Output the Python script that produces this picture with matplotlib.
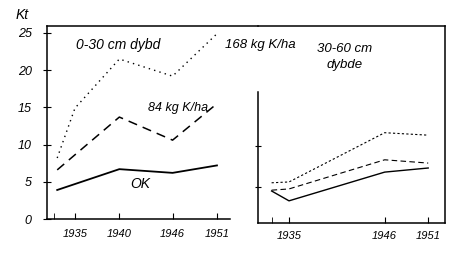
import matplotlib
matplotlib.use("Agg")
import matplotlib.pyplot as plt

# 0-30 cm depth (left panel)
years_168 = [1933, 1935, 1940, 1946, 1951]
k168_top = [8.2, 14.9, 21.5, 19.2, 24.9]
years_84 = [1933, 1940, 1946, 1951]
k84_top = [6.6, 13.7, 10.6, 15.5]
years_0 = [1933, 1935, 1940, 1946, 1951]
k0_top = [3.9, 4.7, 6.7, 6.2, 7.2]
top_ticks = [1935, 1940, 1946, 1951]

# 30-60 cm depth (right panel)
years_sub = [1933, 1935, 1946, 1951]
k168_sub = [5.5, 5.6, 11.6, 11.3]
k84_sub = [4.6, 4.75, 8.3, 7.9]
k0_sub = [4.5, 3.3, 6.8, 7.3]
sub_ticks = [1935, 1946, 1951]

W, H = 476, 258
plt.rcParams['font.family'] = ['Liberation Sans', 'DejaVu Sans']
fig = plt.figure(figsize=(W / 100, H / 100), dpi=100)

def px_axes(x0, ytop, x1, ybot):
    return fig.add_axes([x0 / W, 1 - ybot / H, (x1 - x0) / W, (ybot - ytop) / H])

def fig_text(x, y, s, **kw):
    fig.text(x / W, 1 - y / H, s, style='italic', **kw)

# left panel
ax1 = px_axes(47, 26, 258, 219)
ax1.plot(years_168, k168_top, color='black', lw=1.0, ls=(0, (1, 3)))
ax1.plot(years_84, k84_top, color='black', lw=1.1, ls=(0, (6, 4)))
ax1.plot(years_0, k0_top, color='black', lw=1.3)
ax1.set_xlim(1931.85, 1931.85 + 211 / 8.875)
ax1.set_ylim(0, 25.94)
ax1.spines['right'].set_visible(False)
ax1.spines['bottom'].set_bounds(1931.85, 1952.5)
ax1.set_xticks(top_ticks)
ax1.set_xticklabels([str(y) for y in top_ticks], style='italic', fontsize=8)
ax1.set_xticks([1932.6], minor=True)
ax1.set_yticks([0, 5, 10, 15, 20, 25])
ax1.set_yticklabels(['0', '5', '10', '15', '20', '25'], style='italic', fontsize=9)
ax1.tick_params(axis='x', which='both', direction='in', length=4, pad=7)
ax1.tick_params(axis='y', direction='inout', length=6, pad=8)

# right panel
ax2 = px_axes(258, 26, 445, 223)
ax2.plot(years_sub, k168_sub, color='black', lw=0.8, ls=(0, (2, 2)))
ax2.plot(years_sub, k84_sub, color='black', lw=0.8, ls=(0, (5, 3)))
ax2.plot(years_sub, k0_sub, color='black', lw=1.0)
ax2.set_xlim(1935 - 31 / 8.7, 1935 + 156 / 8.7)
ax2.set_ylim(0.6, 24.6)
ax2.spines['left'].set_bounds(0.6, 16.5)
ax2.set_xticks(sub_ticks)
ax2.set_xticklabels([str(y) for y in sub_ticks], style='italic', fontsize=8)
ax2.set_xticks([1933], minor=True)
ax2.set_yticks([5, 10])
ax2.set_yticklabels([])
ax2.tick_params(axis='x', which='both', direction='in', length=4, pad=6)
ax2.tick_params(axis='y', direction='inout', length=5)

for ax in (ax1, ax2):
    for sp in ax.spines.values():
        sp.set_linewidth(1.1)
    ax.patch.set_alpha(0)

fig_text(22, 15, 'Kt', fontsize=10, ha='center', va='center')
fig_text(118, 45, '0-30 cm dybd', fontsize=10, ha='center', va='center')
fig_text(260, 45, '168 kg K/ha', fontsize=9.5, ha='center', va='center')
fig_text(345, 57, '30-60 cm\ndybde', fontsize=9.5, ha='center', va='center',
         linespacing=1.4)
fig_text(178, 108, '84 kg K/ha', fontsize=9, ha='center', va='center')
fig_text(140, 184, 'OK', fontsize=10, ha='center', va='center')

fig.savefig('out.png', dpi=100, facecolor='white')
